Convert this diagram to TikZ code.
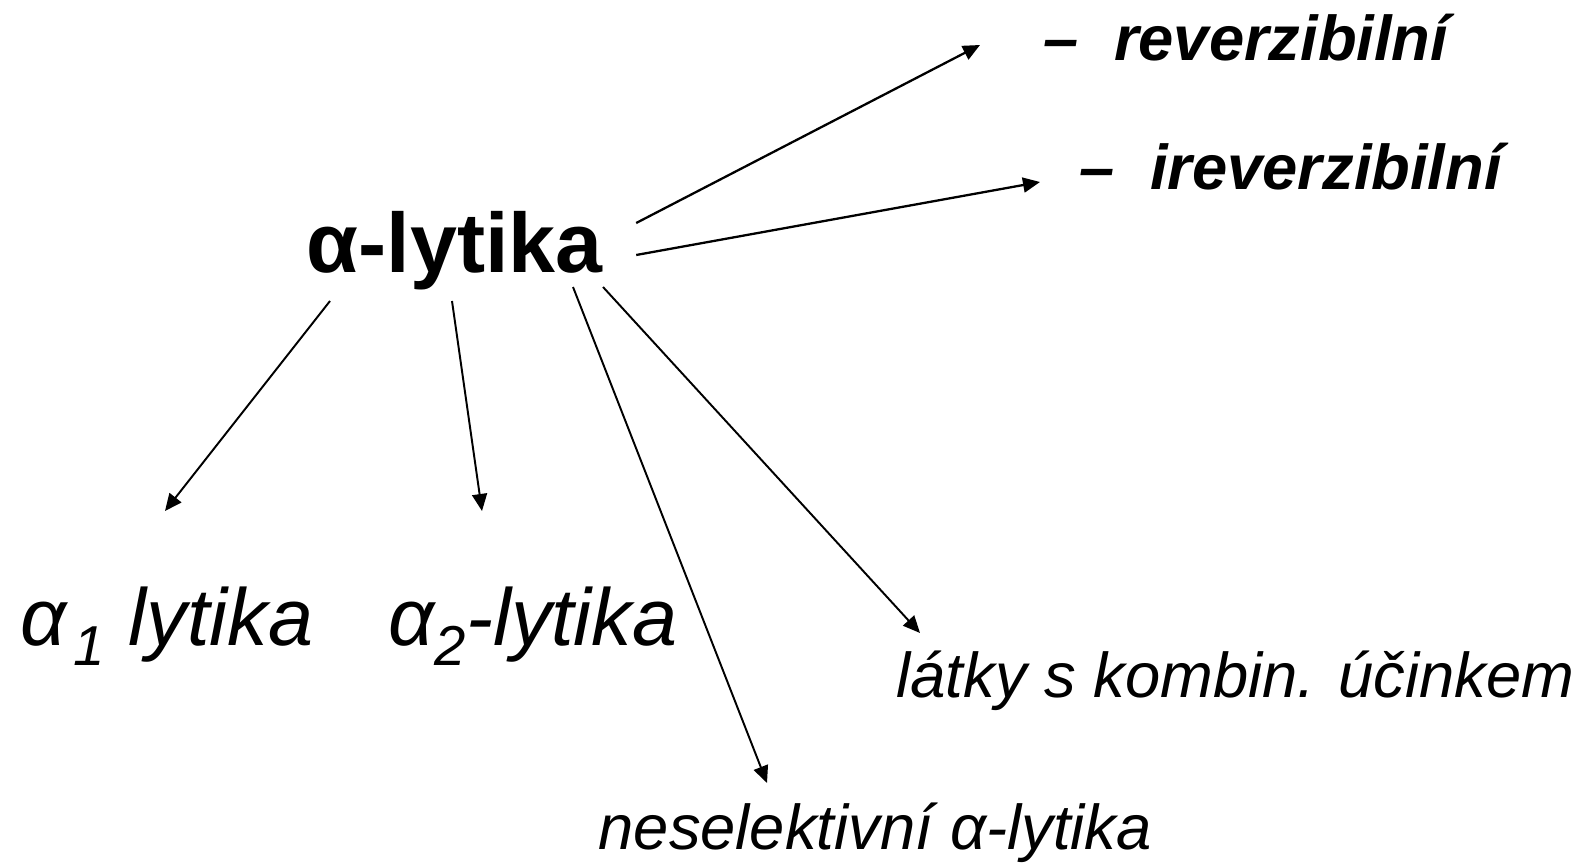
\documentclass[tikz,border=0pt]{standalone}
\usepackage{fontspec}
\setmainfont{Liberation Sans}
\usetikzlibrary{arrows.meta}
\tikzset{
  head/.style={font=\bfseries\fontsize{24}{28}\selectfont, inner sep=0pt, anchor=base west},
  kind/.style={font=\bfseries\itshape\fontsize{18}{22}\selectfont, inner sep=0pt, anchor=base west},
  group/.style={font=\itshape\fontsize{23}{28}\selectfont, inner sep=0pt, anchor=base west},
  other/.style={font=\itshape\fontsize{18}{22}\selectfont, inner sep=0pt, anchor=base west},
  link/.style={-{Triangle[length=1.7mm,width=1.5mm]}, line width=0.55pt},
}
\newcommand{\idx}[1]{\raisebox{-0.2cm}{\fontsize{16}{18}\selectfont #1}}

\begin{document}
\begin{tikzpicture}[x=0.01cm, y=-0.01cm]
\useasboundingbox (0,0) rectangle (1588,864);

\node[head] (alfa) at (306,273) {α-lytika};
\node[kind] (rev) at (1043,61) {–~~reverzibilní};
\node[kind] (irev) at (1079,190) {–~~ireverzibilní};
\node[group] (a1) at (20,645) {α\kern0.08em\idx{1}\hspace{0.3em}lytika};
\node[group] (a2) at (388,645) {α\idx{2}-lytika};
\node[other] (comb) at (896,697) {látky s kombin. účinkem};
\node[other] (nonsel) at (598,849) {neselektivní α-lytika};

% up to the two kinds
\draw[link, line width=0.65pt] ([shift={(33,-50)}]alfa.base east) -- ([shift={(-63,-16)}]rev.base west);
\draw[link, line width=0.65pt] ([shift={(33,-18)}]alfa.base east) -- ([shift={(-39,-8)}]irev.base west);

% down to the groups
\draw[link] ([shift={(24,28)}]alfa.base west) -- ([shift={(145,-134)}]a1.base west);
\draw[link] ([shift={(146,28)}]alfa.base west) -- ([shift={(94,-134)}]a2.base west);
\draw[link] ([shift={(267,14)}]alfa.base west) -- ([shift={(169,-66)}]nonsel.base west);
\draw[link] ([shift={(297,14)}]alfa.base west) -- ([shift={(24,-64)}]comb.base west);

\end{tikzpicture}
\end{document}
